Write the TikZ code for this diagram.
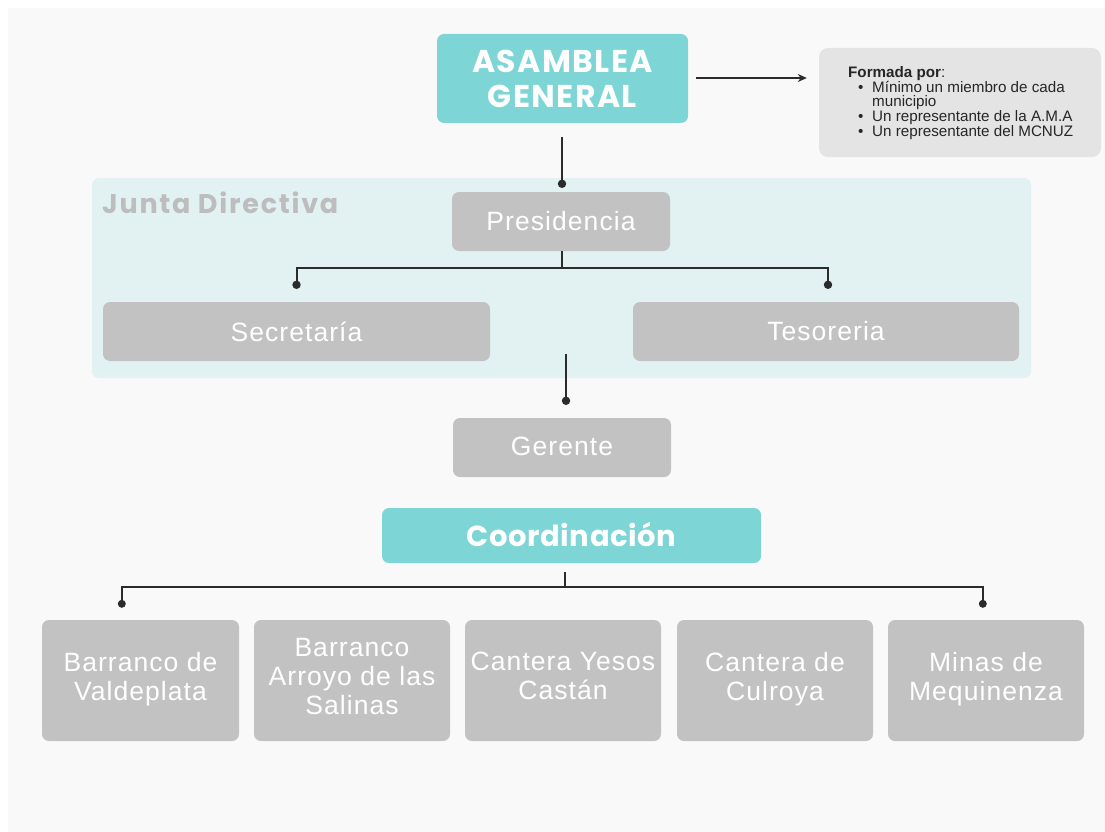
\documentclass[tikz,border=0pt]{standalone}
\usepackage{fontspec}
\setmainfont{Liberation Sans}
\newfontfamily\popfont{Poppins}
\usetikzlibrary{arrows.meta,calc}
\definecolor{myteal}{HTML}{7DD5D6}
\definecolor{boxgray}{HTML}{C2C2C2}
\definecolor{junta}{HTML}{E2F2F2}
\definecolor{bgpanel}{HTML}{F9F9F9}
\definecolor{infogray}{HTML}{E4E4E4}
\definecolor{juntatext}{HTML}{BDBDBD}
\definecolor{linec}{HTML}{2B2B2B}
\begin{document}
\begin{tikzpicture}[x=1pt,y=-1pt,
  tealbox/.style={fill=myteal, rounded corners=7pt, inner sep=0pt, align=center, text=white,
    font=\popfont\bfseries\fontsize{31.5}{35}\selectfont\addfontfeature{LetterSpace=4.5}},
  graybox/.style={fill=boxgray, rounded corners=7pt, inner sep=0pt, align=center, text=white,
    font=\fontsize{26.5}{29}\selectfont\addfontfeature{LetterSpace=4}},
  zonebox/.style={graybox, minimum width=196pt, minimum height=121pt,
    execute at begin node={\rule{0pt}{24.6pt}}, execute at end node=\strut},
  conn/.style={draw=linec, line width=2pt},
  dotc/.style={fill=linec}
]
\fill[white] (0,0) rectangle (1105,832);
\fill[bgpanel] (8,8) rectangle (1105,832);
\useasboundingbox (0,0) rectangle (1105,832);

% Junta Directiva panel
\node[fill=junta, rounded corners=7pt, minimum width=939pt, minimum height=200pt, inner sep=0pt] (junta) at (561.5,278) {};
\node[anchor=west, text=juntatext, inner sep=0pt, font=\popfont\bfseries\fontsize{27}{30}\selectfont\addfontfeature{LetterSpace=6.5}] (juntalabel) at (102,203) {Junta Directiva};

% Asamblea
\node[tealbox, minimum width=251pt, minimum height=89pt] (asam) at (562.5,78.5) {ASAMBLEA\\GENERAL};

% Info box
\node[fill=infogray, rounded corners=9pt, minimum width=282pt, minimum height=109pt, inner sep=0pt] (info) at (960,102.5) {};
\node[anchor=west, align=left, inner sep=0pt, text=black!85, font=\fontsize{15.2}{14.6}\selectfont] (infotext) at (848,103)
{{\bfseries Formada por}:\\
\hspace*{10pt}\makebox[14pt][l]{•}Mínimo un miembro de cada\\
\hspace*{24pt}municipio\\
\hspace*{10pt}\makebox[14pt][l]{•}Un representante de la A.M.A\\
\hspace*{10pt}\makebox[14pt][l]{•}Un representante del MCNUZ};

% Gray boxes
\node[graybox, minimum width=218pt, minimum height=59pt] (pres) at (561,221.5) {\raisebox{2pt}{Presidencia}};
\node[graybox, minimum width=387pt, minimum height=59pt] (sec) at (296.5,331.5) {Secretaría};
\node[graybox, minimum width=386pt, minimum height=59pt] (tes) at (826,331.5) {Tesoreria};
\node[graybox, minimum width=218pt, minimum height=59pt] (ger) at (562,447.5) {\raisebox{2.5pt}{Gerente}};

% Coordinacion
\node[tealbox, minimum width=379pt, minimum height=55pt, font=\popfont\bfseries\fontsize{29}{33}\selectfont\addfontfeature{LetterSpace=2}] (coord) at (571.5,535.5) {\raisebox{1.5pt}{Coordinación}};

% Bottom boxes
\node[zonebox, minimum width=197pt] (z1) at (140.5,680.5) {Barranco de\\Valdeplata};
\node[zonebox] (z2) at (352,680.5) {Barranco\\Arroyo de las\\Salinas};
\node[zonebox] (z3) at (563,680.5) {Cantera Yesos\\Castán};
\node[zonebox] (z4) at (775,680.5) {Cantera de\\Culroya};
\node[zonebox] (z5) at (986,680.5) {Minas de\\Mequinenza};

% Arrow to info
\draw[conn, -{Stealth[length=9pt,width=8pt]}] ($(asam.east)+(8,-0.5)$) -- ($(info.west)+(-12,-24.5)$);

% Asamblea -> Presidencia
\coordinate (d0) at ($(pres.north)+(1,-8)$);
\draw[conn] ($(asam.south)+(-0.5,14)$) -- (d0);
\fill[dotc] (d0) circle (4.2pt);

% Presidencia bus
\coordinate (pb) at ($(pres.south)+(1,17)$);
\coordinate (d1) at ($(sec.north)+(0,-17)$);
\coordinate (d2) at ($(tes.north)+(2,-17)$);
\draw[conn] (pres.south -| pb) -- (pb);
\draw[conn] (d1) -- (d1 |- pb) -- (d2 |- pb) -- (d2);
\fill[dotc] (d1) circle (4.2pt);
\fill[dotc] (d2) circle (4.2pt);

% Junta -> Gerente
\coordinate (gtop) at ($(ger.north)+(4,-64)$);
\coordinate (d3) at ($(ger.north)+(4,-17)$);
\draw[conn] (gtop) -- (d3);
\fill[dotc] (d3) circle (4.2pt);

% Coordinacion bus
\coordinate (cb) at ($(coord.south)+(-6.5,24)$);
\coordinate (d4) at ($(z1.north west)+(80,-16)$);
\coordinate (d5) at ($(z5.north west)+(95,-16)$);
\draw[conn] ($(coord.south)+(-6.5,9)$) -- (cb);
\draw[conn] (d4) -- (d4 |- cb) -- (d5 |- cb) -- (d5);
\fill[dotc] (d4) circle (4pt);
\fill[dotc] (d5) circle (4pt);
\end{tikzpicture}
\end{document}
